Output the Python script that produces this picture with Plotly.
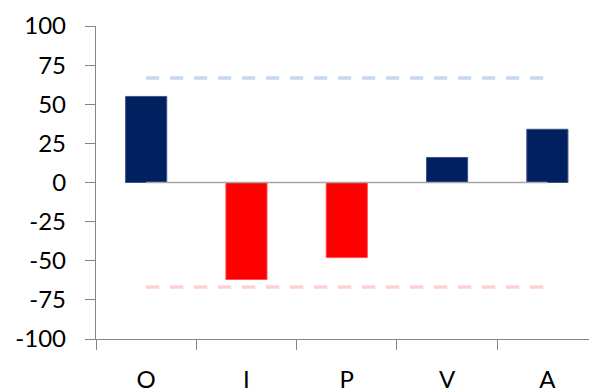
import plotly.graph_objects as go

categories = ["O", "I", "P", "V", "A"]
values = [55, -62, -48, 16, 34]
upper_limit = [66.7, 66.7]
lower_limit = [-66.7, -66.7]
zero_line = [0, 0]
y_ticks = [100, 75, 50, 25, 0, -25, -50, -75, -100]

bar_colors = ["#002060" if v >= 0 else "#ff0000" for v in values]
edge_colors = ["#3b5486" if v >= 0 else "#ff5050" for v in values]

fig = go.Figure()
fig.add_trace(go.Bar(
    x=categories, y=values, width=0.41,
    marker=dict(color=bar_colors, line=dict(color=edge_colors, width=1)),
))
ends = [categories[0], categories[-1]]
fig.add_trace(go.Scatter(x=ends, y=zero_line, mode="lines",
                         line=dict(color="#a6a6a6", width=1.5)))
fig.add_trace(go.Scatter(x=ends, y=upper_limit, mode="lines",
                         line=dict(color="#c6d6ef", width=3.5, dash="13px,11px")))
fig.add_trace(go.Scatter(x=ends, y=lower_limit, mode="lines",
                         line=dict(color="#ffcfcf", width=3.5, dash="13px,11px")))

font = dict(family="Lato, Carlito, Liberation Sans, sans-serif", size=24, color="#000000")
fig.update_layout(
    width=589, height=392,
    margin=dict(l=96, r=0, t=26, b=53),
    paper_bgcolor="white", plot_bgcolor="white",
    showlegend=False, font=font,
)
fig.update_yaxes(
    range=[-100, 100], tickvals=y_ticks, ticktext=[str(t) for t in y_ticks],
    showgrid=False, zeroline=False, showline=True, linecolor="#868686", linewidth=1.3,
    ticks="outside", ticklen=10, tickcolor="#868686", tickwidth=1.3,
    ticklabelstandoff=14, tickfont=font,
)
fig.update_xaxes(
    range=[-0.5, 4.415], type="category", tickson="boundaries",
    showgrid=False, zeroline=False, showline=True, linecolor="#868686", linewidth=1.3,
    ticks="outside", ticklen=10, tickcolor="#868686", tickwidth=1.3,
    ticklabelstandoff=19, tickfont=font,
)
fig.write_html("out.html", config={"displayModeBar": False},
               post_script="document.body.style.margin='0';document.body.style.overflow='hidden';")
